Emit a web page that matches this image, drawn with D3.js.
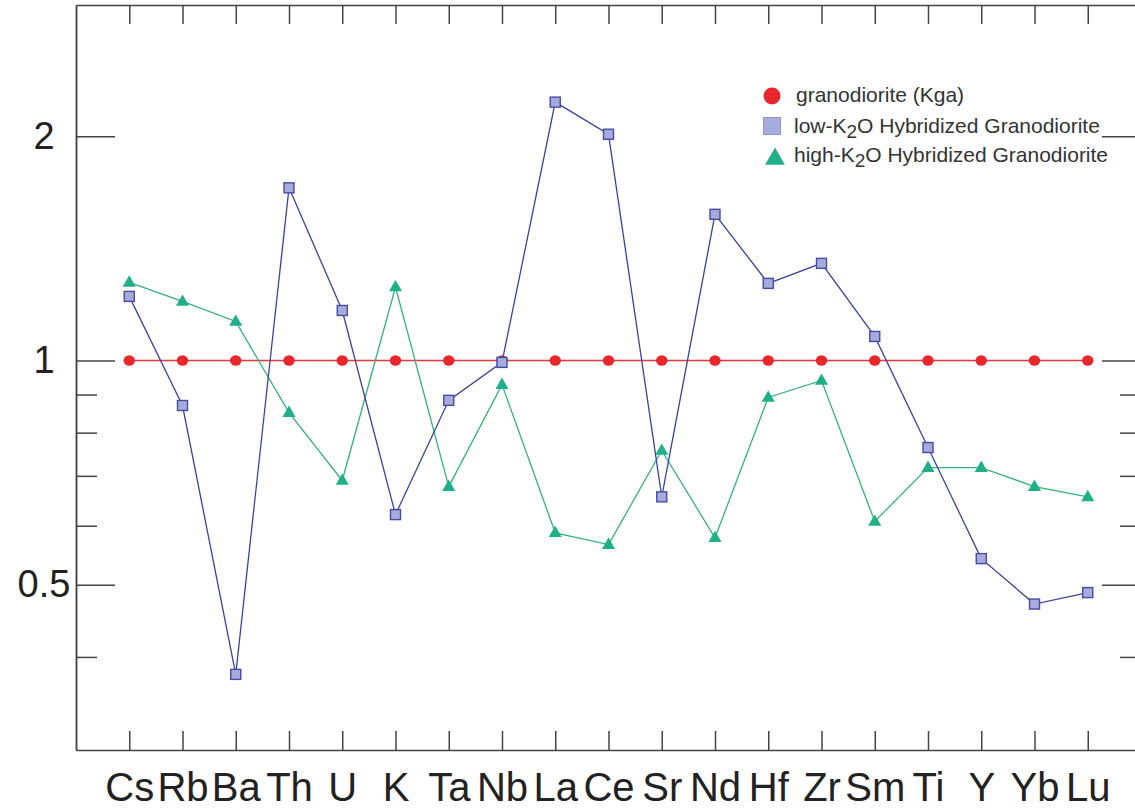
<!DOCTYPE html>
<html>
<head>
<meta charset="utf-8">
<script src="https://cdn.jsdelivr.net/npm/d3@7"></script>
<style>
  body { margin: 0; background: #fff; }
  svg { display: block; font-family: "Liberation Sans", Arial, Helvetica, sans-serif; }
  .axis path, .axis line { stroke: #444; stroke-width: 1.5; }
  .axis text { fill: #222; }
</style>
</head>
<body>
<div id="chart"></div>
<script>
// element order along the x axis
var elements = ["Cs","Rb","Ba","Th","U","K","Ta","Nb","La","Ce","Sr","Nd","Hf","Zr","Sm","Ti","Y","Yb","Lu"];

// normalized to granodiorite (Kga) = 1
var granodiorite = [1,1,1,1,1,1,1,1,1,1,1,1,1,1,1,1,1,1,1];
var lowK2O  = [1.219,0.870,0.379,1.705,1.167,0.621,0.884,0.994,2.222,2.012,0.656,1.571,1.269,1.350,1.077,0.764,0.542,0.471,0.488];
var highK2O = [1.273,1.200,1.128,0.851,0.690,1.255,0.677,0.928,0.587,0.566,0.757,0.578,0.892,0.940,0.608,0.718,0.718,0.677,0.656];

// y axis ticks
var majorTicks = [0.5, 1, 2];
var minorTicks = [0.4, 0.6, 0.7, 0.8, 0.9];
var yDomain = [0.3, 3];

var W = 1135, H = 809;
var mLeft = 76, mRight = 1141, mTop = 5, mBottom = 750;

var svg = d3.select("#chart").append("svg")
    .attr("width", W)
    .attr("height", H);

svg.append("rect").attr("width", W).attr("height", H).attr("fill", "#fff");

var x = d3.scalePoint().domain(elements).range([mLeft, mRight]).padding(1);
var y = d3.scaleLog().domain(yDomain).range([mBottom, mTop]);

// frame / axes
// bottom
var xb = svg.append("g").attr("class", "axis")
    .attr("transform", "translate(0," + mBottom + ")")
    .call(d3.axisBottom(x).tickSizeInner(-19).tickSizeOuter(0).tickPadding(23));
xb.selectAll("text").style("font-size", "40px");

// top
svg.append("g").attr("class", "axis")
    .attr("transform", "translate(0," + mTop + ")")
    .call(d3.axisTop(x).tickSizeInner(-19).tickSizeOuter(0).tickFormat(""));

// left major + labels
var yl = svg.append("g").attr("class", "axis")
    .attr("transform", "translate(" + mLeft + ",0)")
    .call(d3.axisLeft(y).tickValues(majorTicks).tickSizeInner(-39).tickSizeOuter(0)
        .tickFormat(function(d){ return d; }));
yl.selectAll("text")
    .attr("x", -32)
    .attr("text-anchor", "middle")
    .style("font-size", "38px");

// left minor
svg.append("g").attr("class", "axis")
    .attr("transform", "translate(" + mLeft + ",0)")
    .call(d3.axisLeft(y).tickValues(minorTicks).tickSizeInner(-21).tickSizeOuter(0).tickFormat(""));

// right major + minor
svg.append("g").attr("class", "axis")
    .attr("transform", "translate(" + mRight + ",0)")
    .call(d3.axisRight(y).tickValues(majorTicks).tickSizeInner(-39).tickSizeOuter(0).tickFormat(""));
svg.append("g").attr("class", "axis")
    .attr("transform", "translate(" + mRight + ",0)")
    .call(d3.axisRight(y).tickValues(minorTicks).tickSizeInner(-21).tickSizeOuter(0).tickFormat(""));

var line = d3.line()
    .x(function(d, i){ return x(elements[i]); })
    .y(function(d){ return y(d); });

// granodiorite (red)
svg.append("path").datum(granodiorite)
    .attr("d", line)
    .attr("fill", "none")
    .attr("stroke", "#e8393a")
    .attr("stroke-width", 1.4);
svg.append("g").selectAll("ellipse").data(granodiorite).enter().append("ellipse")
    .attr("cx", function(d, i){ return x(elements[i]); })
    .attr("cy", function(d){ return y(d); })
    .attr("rx", 5.7).attr("ry", 5.2)
    .attr("fill", "#e8262b");

// high K2O (green)
svg.append("path").datum(highK2O)
    .attr("d", line)
    .attr("fill", "none")
    .attr("stroke", "#36b27c")
    .attr("stroke-width", 1.3);
var tri = d3.symbol().type(d3.symbolTriangle).size(74);
svg.append("g").selectAll("path").data(highK2O).enter().append("path")
    .attr("d", tri)
    .attr("transform", function(d, i){ return "translate(" + x(elements[i]) + "," + (y(d) + 0.5) + ")"; })
    .attr("fill", "#1fb08a");

// low K2O (blue)
svg.append("path").datum(lowK2O)
    .attr("d", line)
    .attr("fill", "none")
    .attr("stroke", "#3d429e")
    .attr("stroke-width", 1.3);
svg.append("g").selectAll("rect").data(lowK2O).enter().append("rect")
    .attr("x", function(d, i){ return x(elements[i]) - 5; })
    .attr("y", function(d){ return y(d) - 5; })
    .attr("width", 10).attr("height", 10)
    .attr("fill", "#a5acdb")
    .attr("stroke", "#454ba6")
    .attr("stroke-width", 1.4);

// legend
var legend = svg.append("g").attr("transform", "translate(772,0)");
legend.append("circle").attr("cx", 0).attr("cy", 96).attr("r", 8.5).attr("fill", "#e8262b");
legend.append("rect").attr("x", -8.5).attr("y", 117.5).attr("width", 17).attr("height", 17)
    .attr("fill", "#a5acdb").attr("stroke", "#8e96d0").attr("stroke-width", 1);
legend.append("path")
    .attr("d", d3.symbol().type(d3.symbolTriangle).size(170))
    .attr("transform", "translate(3,159)")
    .attr("fill", "#1fb08a");

var lt = legend.append("g").style("font-size", "21px").attr("fill", "#333");
lt.append("text").attr("x", 24).attr("y", 102).text("granodiorite (Kga)");

function k2oLabel(prefix, yPos) {
    var t = lt.append("text").attr("x", 22).attr("y", yPos);
    t.append("tspan").text(prefix + "-K");
    t.append("tspan").attr("dy", 5).style("font-size", "19px").text("2");
    t.append("tspan").attr("dy", -5).text("O Hybridized Granodiorite");
}
k2oLabel("low", 133);
k2oLabel("high", 162);
</script>
</body>
</html>
